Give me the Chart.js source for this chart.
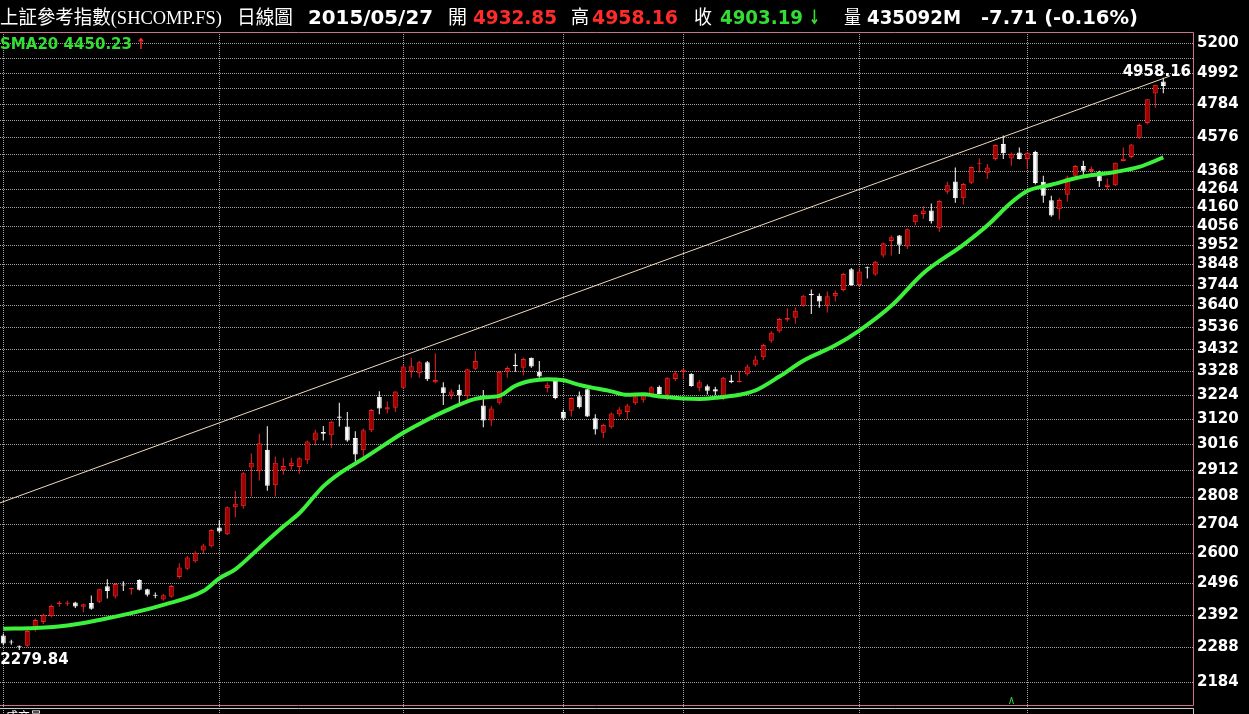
<!DOCTYPE html>
<html><head><meta charset="utf-8">
<script src="https://cdn.jsdelivr.net/npm/chart.js@4.4.1/dist/chart.umd.min.js"></script>
<style>html,body{margin:0;padding:0;background:#000;overflow:hidden}canvas{display:block}</style>
</head><body>
<canvas id="c" width="1249" height="714"></canvas>
<script>
// ---- data ----
const opens  = [2325,2305,2292,2293,2343,2368,2388,2427,2428,2432,2418,2430,2434,2486,2452,2492,2476,2507,2476,2456,2442,2451,2518,2546,2572,2610,2625,2693,2668,2768,2771,2921,2907,2992,2852,2910,2927,2923,2950,3030,3065,3052,3130,3088,3040,2990,3073,3215,3160,3168,3255,3328,3320,3370,3278,3257,3222,3245,3219,3340,3178,3113,3190,3327,3358,3345,3390,3327,3254,3285,3150,3155,3218,3248,3123,3062,3085,3140,3150,3187,3203,3224,3260,3224,3294,3327,3318,3255,3262,3248,3217,3287,3280,3315,3358,3393,3470,3515,3570,3580,3638,3698,3688,3638,3685,3717,3823,3742,3832,3796,3895,3972,4002,3943,4075,4121,4140,4042,4248,4307,4210,4300,4412,4355,4440,4532,4443,4480,4440,4483,4305,4198,4148,4230,4340,4398,4368,4365,4275,4285,4428,4452,4570,4663,4853,4932.85];
const highs  = [2332,2312,2294,2342,2380,2395,2425,2437,2438,2434,2428,2455,2478,2510,2497,2503,2481,2510,2478,2465,2460,2490,2565,2590,2607,2634,2686,2719,2770,2829,2902,2977,3058,3089,2965,2960,2960,2962,3030,3075,3090,3112,3190,3150,3068,3080,3162,3240,3195,3240,3360,3390,3375,3375,3410,3280,3248,3270,3340,3420,3245,3175,3330,3352,3410,3390,3392,3375,3280,3287,3160,3213,3238,3250,3140,3100,3147,3170,3185,3228,3232,3262,3265,3302,3330,3340,3320,3290,3270,3260,3303,3313,3330,3360,3400,3455,3515,3578,3626,3630,3692,3720,3700,3710,3715,3805,3830,3830,3838,3866,3965,4002,4005,4040,4120,4165,4180,4198,4305,4390,4298,4395,4445,4410,4528,4585,4480,4510,4483,4490,4340,4225,4212,4340,4405,4430,4395,4370,4325,4420,4510,4532,4660,4818,4912,4958.16];
const lows   = [2295,2296,2279.84,2290,2338,2362,2384,2418,2420,2414,2400,2408,2430,2445,2445,2470,2458,2472,2452,2446,2438,2448,2512,2542,2567,2598,2620,2672,2665,2730,2762,2808,2870,2830,2808,2892,2912,2895,2935,3010,3030,3000,3088,3025,2945,2960,3065,3140,3143,3150,3250,3300,3300,3285,3275,3180,3205,3180,3200,3335,3085,3090,3182,3300,3327,3310,3345,3300,3235,3205,3115,3130,3165,3128,3055,3040,3080,3130,3120,3180,3190,3220,3225,3200,3285,3293,3260,3240,3225,3222,3200,3275,3278,3308,3350,3380,3460,3508,3560,3550,3633,3598,3628,3605,3660,3710,3738,3735,3775,3790,3885,3895,3903,3930,4058,4093,4068,4022,4235,4185,4175,4292,4360,4322,4432,4440,4400,4437,4380,4290,4185,4105,4090,4190,4335,4340,4355,4275,4262,4280,4425,4445,4562,4655,4760,4855];
const closes = [2300,2303,2290,2340,2375,2391,2420,2432,2432,2419,2426,2411,2476,2470,2494,2489,2480,2474,2458,2454,2456,2487,2550,2585,2602,2628,2683,2678,2768,2781,2898,2940,3019,2850,2940,2927,2940,2958,3026,3063,3058,3108,3125,3030,2973,3073,3158,3165,3170,3238,3350,3352,3370,3293,3290,3231,3238,3222,3338,3375,3113,3165,3327,3343,3352,3385,3350,3305,3268,3210,3122,3210,3170,3130,3076,3095,3143,3160,3178,3217,3224,3257,3228,3300,3320,3337,3263,3280,3242,3238,3300,3280,3285,3350,3382,3450,3508,3574,3578,3614,3688,3690,3660,3685,3702,3799,3742,3812,3828,3862,3960,3993,3952,4036,4116,4140,4080,4195,4285,4210,4292,4393,4418,4390,4525,4475,4472,4440,4478,4298,4225,4112,4200,4330,4398,4370,4380,4308,4290,4418,4442,4528,4650,4815,4910.90,4903.19];
const smaIndex  = [0,4,8,12,16,20,25,27,29,32,35,37,40,42,45,50,52,55,59,61,62,64,66,68,70,72,76,78,80,82,87,89,92,94,97,100,104,107,111,115,120,123,126,128,131,135,139,142,145];
const smaValues = [2347,2349,2357,2375,2397,2424,2470,2513,2544,2619,2696,2745,2847,2897,2956,3062,3099,3150,3206,3215,3219,3264,3286,3293,3288,3268,3239,3224,3226,3217,3206,3211,3224,3243,3305,3377,3448,3518,3638,3803,3952,4057,4186,4252,4288,4336,4363,4393,4450.23];
const trendIndex  = [-0.4125, 145.84];
const trendValues = [2784, 4970];
const monthStartIndex = [0,27,50,70,85,107,128];
const yTickValues = [2184,2288,2392,2496,2600,2704,2808,2912,3016,3120,3224,3328,3432,3536,3640,3744,3848,3952,4056,4160,4264,4368,4472,4576,4680,4784,4888,4992,5096,5200];
const yTickLabelled = [2184,2288,2392,2496,2600,2704,2808,2912,3016,3120,3224,3328,3432,3536,3640,3744,3848,3952,4056,4160,4264,4368,4576,4784,4992,5200];
const markerIndex = [126];
const headerTexts = ['上証參考指數(SHCOMP.FS)','日線圖','2015/05/27','開','4932.85','高','4958.16','收','4903.19','↓','量','435092M','-7.71 (-0.16%)'];
const smaLabel = 'SMA20 4450.23';

// ---- styling ----
const RED_FILL = '#a80000', RED_LINE = '#f02424', WHITE = '#ffffff';
const GREEN_LINE = '#3cf03c', GREEN_TEXT = '#33dd33', RED_TEXT = '#ff2a2a';
const GRID = '#a0a0a0', FRAME = '#d0708f';
const AREA = { left: 0, top: 32, right: 1193, bottom: 705 };

const idx = opens.map((_, i) => i);
const up = idx.map(i => closes[i] >= opens[i]);

const CJK = '19px "Liberation Serif","Noto Sans CJK TC"';
const CJK2 = '19px "Noto Sans CJK TC"';
const NUM = 'bold 20px "DejaVu Sans"';
const headerLayout = [
  [0,222,CJK,WHITE],[237,293,CJK2,WHITE],[308,433,NUM,WHITE],[448,467,CJK2,WHITE],
  [473,557,NUM,RED_TEXT],[571,589,CJK2,WHITE],[592,678,NUM,RED_TEXT],[694,712,CJK2,WHITE],
  [720,803,NUM,GREEN_TEXT],[809,820,NUM,GREEN_TEXT],[844,861,CJK2,WHITE],[867,961,NUM,WHITE],[981,1138,NUM,WHITE]
];

function fitText(ctx, text, x0, x1, y, font, color) {
  ctx.font = font; ctx.fillStyle = color; ctx.textBaseline = 'alphabetic'; ctx.textAlign = 'left';
  const m = ctx.measureText(text).width;
  ctx.save(); ctx.translate(x0, y); ctx.scale((x1 - x0) / m, 1); ctx.fillText(text, 0, 0); ctx.restore();
}
function noPad(s) { s.paddingLeft = 0; s.paddingRight = 0; s.paddingTop = 0; s.paddingBottom = 0; }

const decor = {
  id: 'decor',
  beforeDraw(chart) {
    const c = chart.ctx; c.save(); c.fillStyle = '#000'; c.fillRect(0, 0, chart.width, chart.height); c.restore();
  },
  beforeDatasetsDraw(chart) {
    const c = chart.ctx, a = chart.chartArea, xs = chart.scales.x, ys = chart.scales.y;
    c.save(); c.strokeStyle = GRID; c.lineWidth = 1; c.setLineDash([1, 1]);
    ys.ticks.forEach(t => { const py = Math.round(ys.getPixelForValue(t.value)) + 0.5;
      c.beginPath(); c.moveTo(0, py); c.lineTo(a.right, py); c.stroke(); });
    xs.ticks.forEach(t => { const px = Math.round(xs.getPixelForValue(t.value)) + 0.5;
      c.beginPath(); c.moveTo(px, a.top); c.lineTo(px, chart.height); c.stroke(); });
    c.restore();
  },
  afterDraw(chart) {
    const c = chart.ctx, a = chart.chartArea, xs = chart.scales.x, ys = chart.scales.y;
    c.save();
    c.strokeStyle = FRAME; c.lineWidth = 1;
    c.beginPath();
    c.moveTo(0, a.top + 0.5); c.lineTo(a.right + 0.5, a.top + 0.5);
    c.lineTo(a.right + 0.5, a.bottom + 0.5); c.lineTo(0, a.bottom + 0.5);
    c.stroke();
    c.strokeStyle = '#c8c8c8';
    c.beginPath(); c.moveTo(0, a.bottom + 3.5); c.lineTo(a.right + 0.5, a.bottom + 3.5); c.lineTo(a.right + 0.5, chart.height); c.stroke();
    c.fillStyle = WHITE; c.font = '12px "Noto Sans CJK TC"'; c.textBaseline = 'top'; c.fillText('成交量', 6, a.bottom + 5);
    headerTexts.forEach((t, k) => { const L = headerLayout[k]; fitText(c, t, L[0], L[1], 24, L[2], L[3]); });
    fitText(c, smaLabel, 0, 132, 49, 'bold 15px "DejaVu Sans"', GREEN_TEXT);
    fitText(c, '↑', 136, 146, 49, 'bold 15px "DejaVu Sans"', RED_TEXT);
    let hi = 0, lo = 0;
    idx.forEach(i => { if (highs[i] > highs[hi]) hi = i; if (lows[i] < lows[lo]) lo = i; });
    c.font = 'bold 15px "DejaVu Sans"'; c.fillStyle = WHITE; c.textBaseline = 'alphabetic';
    c.textAlign = 'right';
    c.fillText(highs[hi].toFixed(2), a.right - 2, ys.getPixelForValue(highs[hi]) - 2);
    c.textAlign = 'left';
    c.fillText(lows[lo].toFixed(2), Math.max(0, xs.getPixelForValue(lo) - 19), ys.getPixelForValue(lows[lo]) + 14);
    c.strokeStyle = GREEN_TEXT; c.lineWidth = 1;
    markerIndex.forEach(m => { const px = Math.round(xs.getPixelForValue(m)) + 0.5; const b = a.bottom - 1;
      c.beginPath(); c.moveTo(px - 2, b); c.lineTo(px, b - 7); c.lineTo(px + 2, b); c.stroke(); });
    c.restore();
  }
};

const chart = new Chart(document.getElementById('c'), {
  type: 'bar',
  data: {
    datasets: [
      { type: 'line', label: 'SMA20', data: smaIndex.map((x, k) => ({x, y: smaValues[k]})),
        borderColor: GREEN_LINE, borderWidth: 4, pointRadius: 0, cubicInterpolationMode: 'monotone', order: 1 },
      { type: 'line', label: 'trend', data: trendIndex.map((x, k) => ({x, y: trendValues[k]})),
        borderColor: '#f2d9bd', borderWidth: 1, pointRadius: 0, order: 2 },
      { label: 'body', data: idx.map(i => ({x: i, y: [opens[i], closes[i]]})),
        backgroundColor: idx.map(i => up[i] ? RED_FILL : WHITE),
        borderColor: idx.map(i => up[i] ? RED_LINE : WHITE),
        borderWidth: 1, borderSkipped: false, inflateAmount: 0, grouped: false,
        barThickness: 5, maxBarThickness: 5, minBarLength: 1, order: 3 },
      { label: 'wick', data: idx.map(i => ({x: i, y: [lows[i], highs[i]]})),
        backgroundColor: idx.map(i => up[i] ? RED_LINE : WHITE),
        borderWidth: 0, inflateAmount: 0, grouped: false,
        barThickness: 1, maxBarThickness: 1, order: 4 }
    ]
  },
  options: {
    responsive: false, animation: false, devicePixelRatio: 1,
    layout: { padding: { top: 32, bottom: 9, left: 0, right: 0 } },
    plugins: { legend: { display: false }, tooltip: { enabled: false } },
    scales: {
      x: { type: 'linear', min: -0.4125, max: 148.7125, offset: false,
        grid: { display: false, drawTicks: false, offset: false },
        border: { display: false },
        ticks: { display: false },
        afterBuildTicks: s => { s.ticks = monthStartIndex.map(v => ({value: v})); },
        afterFit: s => { s.height = 0; noPad(s); } },
      y: { type: 'logarithmic', position: 'right', min: 2116, max: 5276, bounds: 'data', beginAtZero: false,
        grid: { display: false, drawTicks: false },
        border: { display: false },
        ticks: { color: WHITE, padding: 4, autoSkip: false, font: { family: 'DejaVu Sans', weight: 'bold', size: 15 },
          callback: v => yTickLabelled.includes(v) ? String(v) : '' },
        afterBuildTicks: s => { s.ticks = yTickValues.map(v => ({value: v})); },
        afterFit: s => { s.width = 56; noPad(s); } }
    }
  },
  plugins: [decor]
});
// make the plot area land exactly on the reference frame
for (let k = 0; k < 3; k++) {
  const a = chart.chartArea, pad = chart.options.layout.padding;
  const dt = AREA.top - a.top, db = a.bottom - AREA.bottom, dl = AREA.left - a.left, dr = a.right - AREA.right;
  if (!dt && !db && !dl && !dr) break;
  pad.top += dt; pad.bottom += db; pad.left += dl; pad.right += dr;
  chart.update();
}
</script>
</body></html>
